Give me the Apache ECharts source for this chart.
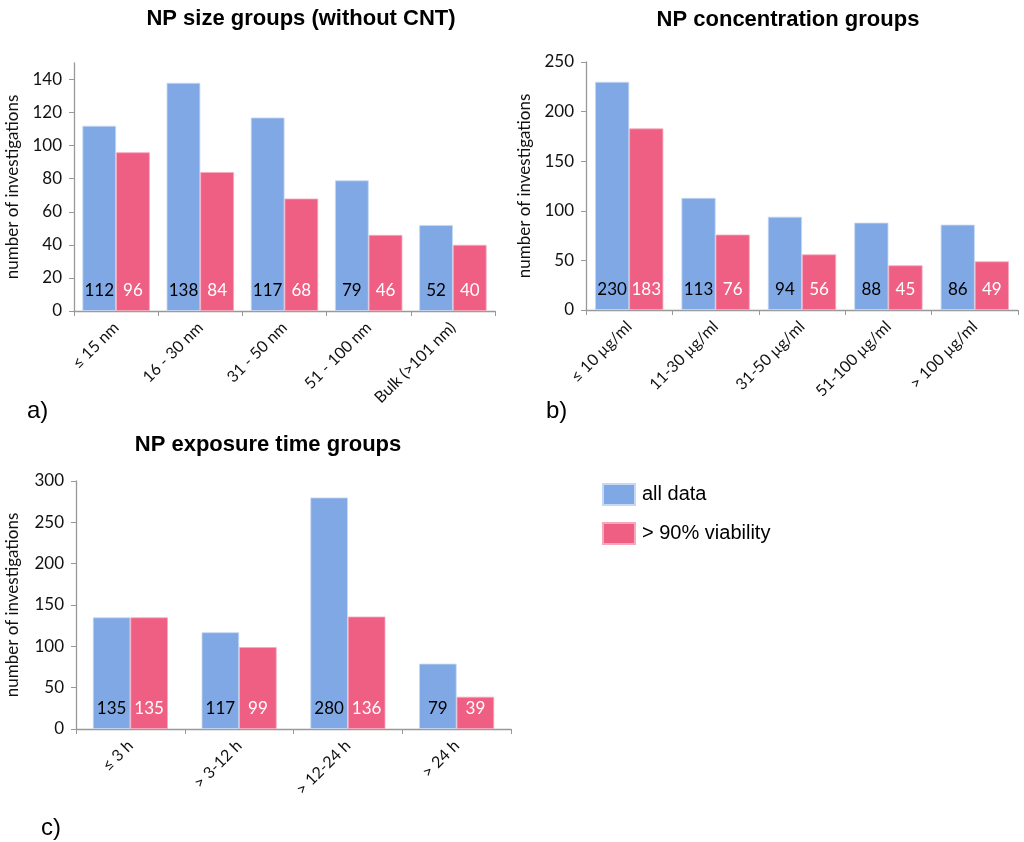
<!DOCTYPE html>
<html><head><meta charset="utf-8">
<script src="https://cdn.jsdelivr.net/npm/echarts@6/dist/echarts.min.js"></script>
<style>html,body{margin:0;padding:0;background:#fff}#c{width:1024px;height:842px}</style>
</head><body><div id="c"></div>
<script>
const sizeCats = ['≤ 15 nm','16 - 30 nm','31 - 50 nm','51 - 100 nm','Bulk (>101 nm)'];
const sizeAll = [112,138,117,79,52];
const sizeViable = [96,84,68,46,40];
const concCats = ['≤ 10 µg/ml','11-30 µg/ml','31-50 µg/ml','51-100 µg/ml','> 100 µg/ml'];
const concAll = [230,113,94,88,86];
const concViable = [183,76,56,45,49];
const timeCats = ['≤ 3 h','> 3-12 h','> 12-24 h','> 24 h'];
const timeAll = [135,117,280,79];
const timeViable = [135,99,136,39];
const seriesNames = ['all data','> 90% viability'];
const titles = ['NP size groups (without CNT)','NP concentration groups','NP exposure time groups'];
const panelLetters = ['a)','b)','c)'];

const BLUE = '#80A8E4', RED = '#EF5E83';
const LBL = 'Lato, "Open Sans", sans-serif';
const ARIAL = '"Liberation Sans", Arial, sans-serif';
const chart = echarts.init(document.getElementById('c'));

const grids = [
  {left:74, top:63, width:421, height:248},
  {left:586, top:62, width:432, height:248},
  {left:76, top:481, width:435, height:248}
];
const yMax = [150,250,300], yInt = [20,50,50];
const cats = [sizeCats, concCats, timeCats];
const alls = [sizeAll, concAll, timeAll];
const vias = [sizeViable, concViable, timeViable];
const catGap = ['20%','21%','31%'];
const nameGaps = [53,53,55];

const xAxis = [], yAxis = [], series = [];
for (let i = 0; i < 3; i++) {
  xAxis.push({type:'category', gridIndex:i, data:cats[i],
    axisLine:{lineStyle:{color:'#999',width:1.3}},
    axisTick:{show:true, alignWithLabel:false, length:5, lineStyle:{color:'#999'}},
    axisLabel:{rotate:45, interval:0, color:'#111', fontFamily:LBL, fontSize:16, margin:14}
  });
  yAxis.push({type:'value', gridIndex:i, min:0, max:yMax[i], interval:yInt[i],
    name:'number of investigations', nameLocation:'middle', nameRotate:90, nameGap:nameGaps[i],
    nameTextStyle:{fontFamily:LBL, fontSize:17, color:'#111'},
    axisLine:{show:true, lineStyle:{color:'#999',width:1.3}},
    axisTick:{show:true, length:5, lineStyle:{color:'#999'}},
    splitLine:{show:false},
    axisLabel:{color:'#111', fontFamily:LBL, fontSize:17, margin:12, showMaxLabel: i!==0}
  });
  series.push({name:seriesNames[0], type:'bar', xAxisIndex:i, yAxisIndex:i, data:alls[i],
    barGap:'0%', barCategoryGap:catGap[i],
    itemStyle:{color:BLUE, borderColor:'#c6d8f4', borderWidth:0.8},
    label:{show:true, position:'insideBottom', distance:12, color:'#000', fontFamily:LBL, fontSize:17}
  });
  series.push({name:seriesNames[1], type:'bar', xAxisIndex:i, yAxisIndex:i, data:vias[i],
    barGap:'0%', barCategoryGap:catGap[i],
    itemStyle:{color:RED, borderColor:'#f6a9bd', borderWidth:0.8},
    label:{show:true, position:'insideBottom', distance:12, color:'#fff', fontFamily:LBL, fontSize:17}
  });
}

const titleStyle = {fontFamily:ARIAL, fontSize:22, fontWeight:'bold', color:'#000'};
const letterStyle = {fontFamily:ARIAL, fontSize:24, fontWeight:'normal', color:'#000'};
const title = [
  {text:titles[0], left:296, top:3, textAlign:'center', textStyle:titleStyle},
  {text:titles[1], left:783, top:4, textAlign:'center', textStyle:titleStyle},
  {text:titles[2], left:263, top:429, textAlign:'center', textStyle:titleStyle},
  {text:panelLetters[0], left:22, top:394, textStyle:letterStyle},
  {text:panelLetters[1], left:541, top:394, textStyle:letterStyle},
  {text:panelLetters[2], left:36, top:811, textStyle:letterStyle}
];

chart.setOption({
  animation:false,
  title,
  legend:{data:seriesNames, orient:'vertical', left:597, top:478, itemWidth:32, itemHeight:21, itemGap:16,
    icon:'rect', textStyle:{fontFamily:ARIAL, fontSize:20, color:'#000', padding:[0,0,0,2]}},
  grid:grids, xAxis, yAxis, series
});
</script></body></html>
